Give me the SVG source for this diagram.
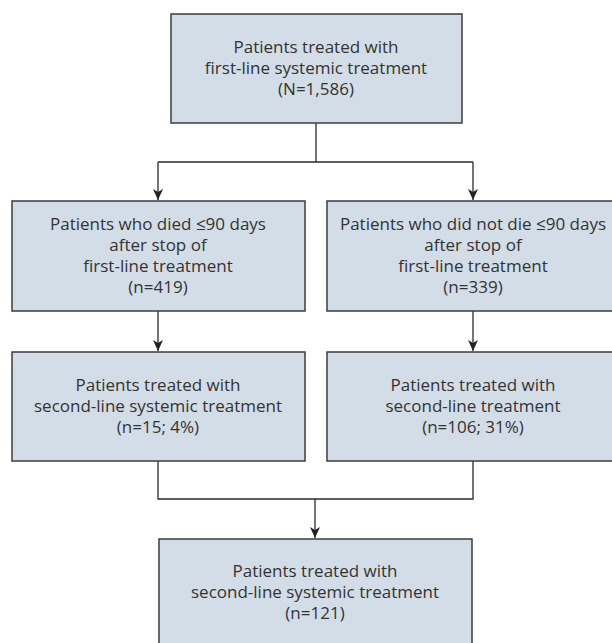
<svg xmlns="http://www.w3.org/2000/svg" width="612" height="643" viewBox="0 0 612 643">
<defs>
<marker id="arr" markerUnits="userSpaceOnUse" markerWidth="12" markerHeight="10" refX="11" refY="5" orient="auto" viewBox="0 0 12 10">
<path d="M0,0 L11,5 L0,10 L3,5 Z" fill="#222"/>
</marker>
</defs>
<style>
.box{fill:#d3dde7;stroke:#3c3c3c;stroke-width:1.5}
.t{font-family:"Open Sans","Noto Sans","Liberation Sans",sans-serif;font-size:17px;fill:#333;text-anchor:middle;font-variant-ligatures:none}
.c{fill:none;stroke:#2a2a2a;stroke-width:1.3}
</style>
<rect width="612" height="643" fill="#fff"/>
<g id="connectors">
<path class="c" d="M316,123 V162 M158,162 H473"/>
<path class="c" d="M158,162 V200" marker-end="url(#arr)"/>
<path class="c" d="M473,162 V200" marker-end="url(#arr)"/>
<path class="c" d="M158,311 V351" marker-end="url(#arr)"/>
<path class="c" d="M473,311 V351" marker-end="url(#arr)"/>
<path class="c" d="M158,461 V499 H473 V461"/>
<path class="c" d="M315,499 V538" marker-end="url(#arr)"/>
</g>
<g id="n1">
<rect class="box" x="171" y="14" width="291" height="109"/>
<text class="t" x="316" y="53">Patients treated with</text>
<text class="t" x="316" y="74">first-line systemic treatment</text>
<text class="t" x="316" y="95">(N=1,586)</text>
</g>
<g id="n2">
<rect class="box" x="12" y="201" width="293" height="110"/>
<text class="t" x="158" y="229.5">Patients who died ≤90 days</text>
<text class="t" x="158" y="250.5">after stop of</text>
<text class="t" x="158" y="271.5">first-line treatment</text>
<text class="t" x="158" y="292.5">(n=419)</text>
</g>
<g id="n3">
<rect class="box" x="327" y="201" width="293" height="110"/>
<text class="t" x="473" y="229.5">Patients who did not die ≤90 days</text>
<text class="t" x="473" y="250.5">after stop of</text>
<text class="t" x="473" y="271.5">first-line treatment</text>
<text class="t" x="473" y="292.5">(n=339)</text>
</g>
<g id="n4">
<rect class="box" x="12" y="352" width="293" height="109"/>
<text class="t" x="158" y="391">Patients treated with</text>
<text class="t" x="158" y="412">second-line systemic treatment</text>
<text class="t" x="158" y="433">(n=15; 4%)</text>
</g>
<g id="n5">
<rect class="box" x="327" y="352" width="293" height="109"/>
<text class="t" x="473" y="391">Patients treated with</text>
<text class="t" x="473" y="412">second-line treatment</text>
<text class="t" x="473" y="433">(n=106; 31%)</text>
</g>
<g id="n6">
<rect class="box" x="159" y="539" width="313" height="110"/>
<text class="t" x="315" y="577">Patients treated with</text>
<text class="t" x="315" y="598">second-line systemic treatment</text>
<text class="t" x="315" y="619">(n=121)</text>
</g>
</svg>
